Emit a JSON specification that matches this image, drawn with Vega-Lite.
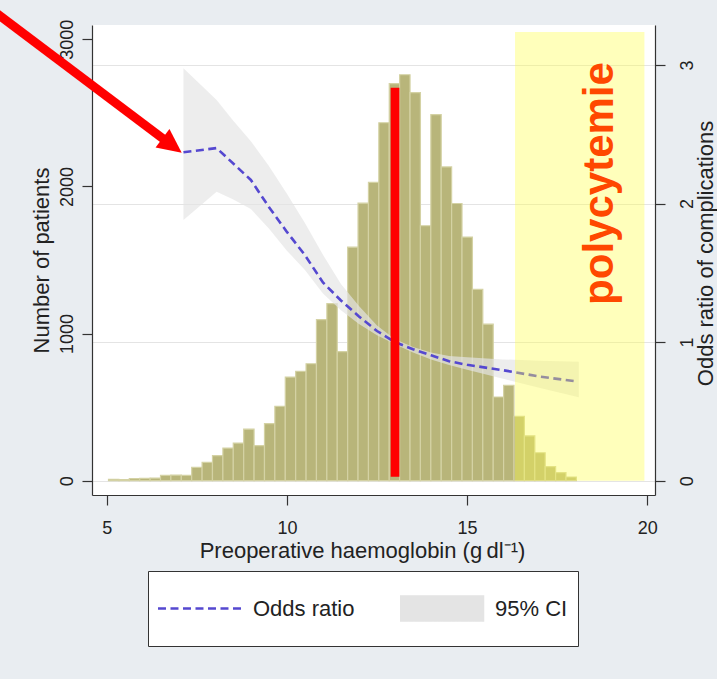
{
  "$schema": "https://vega.github.io/schema/vega-lite/v6.json",
  "width": 563,
  "height": 470,
  "autosize": {"type": "none"},
  "padding": {"left": 92, "top": 25, "right": 62, "bottom": 184},
  "background": "#e9edf1",
  "config": {
    "font": "Liberation Sans",
    "view": {"fill": "white", "stroke": null},
    "axis": {
      "domainColor": "#333333", "domainWidth": 1.2,
      "tickColor": "#333333", "tickWidth": 1.2, "tickSize": 10,
      "labelColor": "#222222", "labelFontSize": 18, "labelFont": "Liberation Sans",
      "titleColor": "#222222", "titleFontSize": 22, "titleFontWeight": "normal", "titleFont": "Liberation Sans",
      "grid": false
    }
  },
  "datasets": {
    "hist": [
      {"lo": 5.050, "hi": 5.339, "n": 10},
      {"lo": 5.339, "hi": 5.627, "n": 8},
      {"lo": 5.627, "hi": 5.916, "n": 14},
      {"lo": 5.916, "hi": 6.204, "n": 16},
      {"lo": 6.204, "hi": 6.493, "n": 18},
      {"lo": 6.493, "hi": 6.781, "n": 36},
      {"lo": 6.781, "hi": 7.070, "n": 38},
      {"lo": 7.070, "hi": 7.358, "n": 36},
      {"lo": 7.358, "hi": 7.647, "n": 91},
      {"lo": 7.647, "hi": 7.935, "n": 125},
      {"lo": 7.935, "hi": 8.224, "n": 170},
      {"lo": 8.224, "hi": 8.512, "n": 222},
      {"lo": 8.512, "hi": 8.801, "n": 256},
      {"lo": 8.801, "hi": 9.089, "n": 350},
      {"lo": 9.089, "hi": 9.378, "n": 238},
      {"lo": 9.378, "hi": 9.666, "n": 388},
      {"lo": 9.666, "hi": 9.955, "n": 506},
      {"lo": 9.955, "hi": 10.243, "n": 704},
      {"lo": 10.243, "hi": 10.532, "n": 744},
      {"lo": 10.532, "hi": 10.820, "n": 795},
      {"lo": 10.820, "hi": 11.109, "n": 1095},
      {"lo": 11.109, "hi": 11.397, "n": 1203},
      {"lo": 11.397, "hi": 11.686, "n": 877},
      {"lo": 11.686, "hi": 11.974, "n": 1587},
      {"lo": 11.974, "hi": 12.263, "n": 1886},
      {"lo": 12.263, "hi": 12.551, "n": 2027},
      {"lo": 12.551, "hi": 12.840, "n": 2433},
      {"lo": 12.840, "hi": 13.128, "n": 2699},
      {"lo": 13.128, "hi": 13.417, "n": 2759},
      {"lo": 13.417, "hi": 13.705, "n": 2637},
      {"lo": 13.705, "hi": 13.994, "n": 1733},
      {"lo": 13.994, "hi": 14.282, "n": 2488},
      {"lo": 14.282, "hi": 14.571, "n": 2133},
      {"lo": 14.571, "hi": 14.859, "n": 1884},
      {"lo": 14.859, "hi": 15.148, "n": 1656},
      {"lo": 15.148, "hi": 15.436, "n": 1301},
      {"lo": 15.436, "hi": 15.725, "n": 1064},
      {"lo": 15.725, "hi": 16.013, "n": 569},
      {"lo": 16.013, "hi": 16.302, "n": 648},
      {"lo": 16.302, "hi": 16.590, "n": 438},
      {"lo": 16.590, "hi": 16.879, "n": 305},
      {"lo": 16.879, "hi": 17.167, "n": 190},
      {"lo": 17.167, "hi": 17.456, "n": 95},
      {"lo": 17.456, "hi": 17.744, "n": 55},
      {"lo": 17.744, "hi": 18.033, "n": 25}
    ],
    "or": [
      {"hb": 7.13, "or": 2.37, "series": "Odds ratio"},
      {"hb": 8.05, "or": 2.40, "series": "Odds ratio"},
      {"hb": 9.0, "or": 2.17, "series": "Odds ratio"},
      {"hb": 9.5, "or": 1.975, "series": "Odds ratio"},
      {"hb": 10.0, "or": 1.795, "series": "Odds ratio"},
      {"hb": 10.5, "or": 1.628, "series": "Odds ratio"},
      {"hb": 11.0, "or": 1.43, "series": "Odds ratio"},
      {"hb": 11.5, "or": 1.30, "series": "Odds ratio"},
      {"hb": 12.0, "or": 1.185, "series": "Odds ratio"},
      {"hb": 12.5, "or": 1.08, "series": "Odds ratio"},
      {"hb": 13.0, "or": 1.00, "series": "Odds ratio"},
      {"hb": 13.5, "or": 0.948, "series": "Odds ratio"},
      {"hb": 14.0, "or": 0.905, "series": "Odds ratio"},
      {"hb": 14.5, "or": 0.862, "series": "Odds ratio"},
      {"hb": 15.0, "or": 0.836, "series": "Odds ratio"},
      {"hb": 16.0, "or": 0.797, "series": "Odds ratio"},
      {"hb": 17.0, "or": 0.752, "series": "Odds ratio"},
      {"hb": 17.96, "or": 0.719, "series": "Odds ratio"}
    ],
    "ci": [
      {"hb": 7.13, "lo": 1.881, "hi": 2.976, "series": "95% CI"},
      {"hb": 8.05, "lo": 2.085, "hi": 2.747, "series": "95% CI"},
      {"hb": 8.5, "lo": 2.03, "hi": 2.60, "series": "95% CI"},
      {"hb": 9.0, "lo": 1.96, "hi": 2.45, "series": "95% CI"},
      {"hb": 9.5, "lo": 1.82, "hi": 2.27, "series": "95% CI"},
      {"hb": 10.0, "lo": 1.66, "hi": 2.07, "series": "95% CI"},
      {"hb": 10.5, "lo": 1.52, "hi": 1.86, "series": "95% CI"},
      {"hb": 11.0, "lo": 1.35, "hi": 1.63, "series": "95% CI"},
      {"hb": 11.5, "lo": 1.23, "hi": 1.42, "series": "95% CI"},
      {"hb": 12.0, "lo": 1.13, "hi": 1.26, "series": "95% CI"},
      {"hb": 12.5, "lo": 1.05, "hi": 1.12, "series": "95% CI"},
      {"hb": 13.0, "lo": 0.985, "hi": 1.02, "series": "95% CI"},
      {"hb": 13.5, "lo": 0.925, "hi": 0.965, "series": "95% CI"},
      {"hb": 14.0, "lo": 0.875, "hi": 0.925, "series": "95% CI"},
      {"hb": 14.5, "lo": 0.835, "hi": 0.90, "series": "95% CI"},
      {"hb": 15.0, "lo": 0.80, "hi": 0.89, "series": "95% CI"},
      {"hb": 16.0, "lo": 0.735, "hi": 0.875, "series": "95% CI"},
      {"hb": 17.0, "lo": 0.67, "hi": 0.865, "series": "95% CI"},
      {"hb": 18.1, "lo": 0.602, "hi": 0.858, "series": "95% CI"}
    ]
  },
  "resolve": {"scale": {"y": "independent"}},
  "layer": [
    {
      "data": {"name": "hist"},
      "mark": {"type": "rect", "fill": "#b8b57a", "stroke": "#d4d2a4", "strokeWidth": 1.2},
      "encoding": {
        "x": {
          "field": "lo", "type": "quantitative",
          "scale": {"domain": [4.592, 20.214], "nice": false, "zero": false},
          "axis": {
            "values": [5, 10, 15, 20], "format": "d",
            "title": "Preoperative haemoglobin (g\u2009dl⁻¹)",
            "labelBaseline": "alphabetic", "labelPadding": 28,
            "titleX": 270, "titleY": 62, "titleBaseline": "alphabetic", "titleAlign": "center"
          }
        },
        "x2": {"field": "hi"},
        "y": {
          "field": "n", "type": "quantitative",
          "scale": {"domain": [-97.2, 3097.3], "nice": false, "zero": false},
          "axis": {
            "orient": "left",
            "values": [0, 1000, 2000, 3000], "format": "d",
            "labelAngle": 270, "labelAlign": "center", "labelBaseline": "alphabetic", "labelPadding": 10,
            "title": "Number of patients",
            "titleAngle": 270, "titleX": -44, "titleY": 235, "titleBaseline": "alphabetic", "titleAlign": "center"
          }
        },
        "y2": {"datum": 0}
      }
    },
    {
      "layer": [
        {
          "data": {"name": "ci"},
          "mark": {"type": "area", "opacity": 0.68},
          "encoding": {
            "x": {"field": "hb", "type": "quantitative", "scale": {"domain": [4.592, 20.214], "nice": false, "zero": false}},
            "y": {
              "field": "hi", "type": "quantitative",
              "scale": {"domain": [-0.1032, 3.288], "nice": false, "zero": false},
              "axis": {
                "orient": "right",
                "values": [0, 1, 2, 3], "format": "d",
                "grid": true, "gridColor": "#e4e4e4", "gridWidth": 1,
                "labelAngle": 270, "labelAlign": "center", "labelBaseline": "alphabetic", "labelPadding": 27,
                "title": "Odds ratio of complications",
                "titleAngle": 270, "titleX": 57, "titleY": 228, "titleBaseline": "alphabetic", "titleAlign": "center"
              }
            },
            "y2": {"field": "lo"},
            "color": {
              "field": "series", "type": "nominal",
              "scale": {"domain": ["Odds ratio", "95% CI"], "range": ["#5548d0", "#e4e4e4"]}
            }
          }
        },
        {
          "data": {"name": "or"},
          "mark": {"type": "line", "strokeDash": [8, 4.5], "strokeWidth": 2.6},
          "encoding": {
            "x": {"field": "hb", "type": "quantitative", "scale": {"domain": [4.592, 20.214], "nice": false, "zero": false}},
            "y": {"field": "or", "type": "quantitative"},
            "color": {
              "field": "series", "type": "nominal",
              "scale": {"domain": ["Odds ratio", "95% CI"], "range": ["#5548d0", "#e4e4e4"]},
              "legend": {
                "orient": "none", "legendX": 56, "legendY": 546,
                "title": null, "direction": "horizontal", "columns": 2, "columnPadding": 45,
                "padding": 10, "fillColor": "#ffffff", "strokeColor": "#333333",
                "labelFontSize": 22, "labelColor": "#222222", "labelFont": "Liberation Sans",
                "labelOffset": 37, "labelLimit": 300, "clipHeight": 55,
                "symbolSize": 3025, "symbolStrokeWidth": 2.5,
                "encode": {
                  "symbols": {
                    "update": {
                      "shape": {"signal": "datum.value === 'Odds ratio' ? 'M-1.055,0H1.964' : 'M-1.055,-0.436H1.964V0.436H-1.055Z'"},
                      "fill": {"signal": "datum.value === 'Odds ratio' ? 'transparent' : '#ebebeb'"},
                      "stroke": {"signal": "datum.value === 'Odds ratio' ? '#5548d0' : 'transparent'"},
                      "strokeDash": {"signal": "datum.value === 'Odds ratio' ? [8, 4.5] : [1, 0]"},
                      "opacity": {"value": 1},
                      "fillOpacity": {"value": 1},
                      "strokeOpacity": {"value": 1}
                    }
                  }
                }
              }
            }
          }
        }
      ]
    },
    {
      "layer": [
        {
          "data": {"values": [{"x": 13.0, "y": 27, "y2": 2670}]},
          "mark": {"type": "rule", "color": "#ff0000", "strokeWidth": 8.7, "strokeCap": "butt"},
          "encoding": {
            "x": {"field": "x", "type": "quantitative", "scale": {"domain": [4.592, 20.214], "nice": false, "zero": false}},
            "y": {"field": "y", "type": "quantitative", "scale": {"domain": [-97.2, 3097.3], "nice": false, "zero": false}, "axis": null},
            "y2": {"field": "y2"}
          }
        },
        {
          "data": {"values": [{"x": 16.33, "x2": 19.92, "y": 0, "y2": 3050}]},
          "mark": {"type": "rect", "fill": "#ffff4d", "opacity": 0.38},
          "encoding": {
            "x": {"field": "x", "type": "quantitative", "scale": {"domain": [4.592, 20.214], "nice": false, "zero": false}},
            "x2": {"field": "x2"},
            "y": {"field": "y", "type": "quantitative", "scale": {"domain": [-97.2, 3097.3], "nice": false, "zero": false}, "axis": null},
            "y2": {"field": "y2"}
          }
        },
        {
          "data": {"values": [{"x": 18.675, "y": 2020, "label": "polycytemie"}]},
          "mark": {"type": "text", "angle": 270, "align": "center", "baseline": "middle", "font": "Liberation Sans", "fontSize": 42, "fontWeight": "bold", "color": "#ff4800"},
          "encoding": {
            "x": {"field": "x", "type": "quantitative", "scale": {"domain": [4.592, 20.214], "nice": false, "zero": false}},
            "y": {"field": "y", "type": "quantitative", "scale": {"domain": [-97.2, 3097.3], "nice": false, "zero": false}, "axis": null},
            "text": {"field": "label"}
          }
        },
        {
          "data": {"values": [{"x": 1.956, "y": 3175, "x2": 6.593, "y2": 2319}]},
          "mark": {"type": "rule", "color": "#ff0000", "strokeWidth": 9, "strokeCap": "butt", "clip": false},
          "encoding": {
            "x": {"field": "x", "type": "quantitative", "scale": {"domain": [4.592, 20.214], "nice": false, "zero": false}},
            "x2": {"field": "x2"},
            "y": {"field": "y", "type": "quantitative", "scale": {"domain": [-97.2, 3097.3], "nice": false, "zero": false}, "axis": null},
            "y2": {"field": "y2"}
          }
        },
        {
          "data": {"values": [{"x": 7.081, "y": 2229}]},
          "mark": {"type": "point", "shape": "M0,0L-2,-0.96L-2,0.96Z", "size": 576, "angle": 37, "filled": true, "color": "#ff0000", "opacity": 1, "clip": false},
          "encoding": {
            "x": {"field": "x", "type": "quantitative", "scale": {"domain": [4.592, 20.214], "nice": false, "zero": false}},
            "y": {"field": "y", "type": "quantitative", "scale": {"domain": [-97.2, 3097.3], "nice": false, "zero": false}, "axis": null}
          }
        }
      ]
    }
  ]
}
